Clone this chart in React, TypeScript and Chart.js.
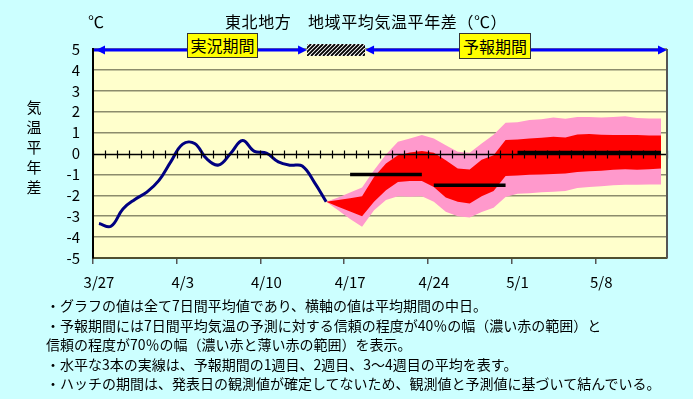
import React, { useEffect, useRef } from "react";
import { Chart, registerables } from "chart.js";

Chart.register(...registerables);

// ---- data ----
const categories = [
  "3/27", "3/28", "3/29", "3/30", "3/31", "4/1", "4/2", "4/3", "4/4", "4/5",
  "4/6", "4/7", "4/8", "4/9", "4/10", "4/11", "4/12", "4/13", "4/14", "4/15",
  "4/16", "4/17", "4/18", "4/19", "4/20", "4/21", "4/22", "4/23", "4/24", "4/25",
  "4/26", "4/27", "4/28", "4/29", "4/30", "5/1", "5/2", "5/3", "5/4", "5/5",
  "5/6", "5/7", "5/8", "5/9", "5/10", "5/11", "5/12", "5/13",
];
const xTickLabels = ["3/27", "4/3", "4/10", "4/17", "4/24", "5/1", "5/8"];
const yTicks = [-5, -4, -3, -2, -1, 0, 1, 2, 3, 4, 5];

// observed (実況), starting 3/27
const observed = [
  -3.35, -3.48, -2.65, -2.2, -1.85, -1.3, -0.4, 0.45, 0.48, -0.25,
  -0.55, 0.0, 0.62, 0.1, 0.02, -0.4, -0.56, -0.6, -1.37, -2.31,
];

// forecast bands (予報), starting 4/15
const forecastStart = "4/15";
const pinkUpper = [
  -2.31, -2.1, -1.87, -1.63, -0.8, -0.05, 0.56, 0.72, 0.88, 0.72,
  0.4, 0.08, 0.03, 0.48, 0.9, 1.47, 1.5, 1.6, 1.64, 1.72,
  1.66, 1.75, 1.75, 1.72, 1.75, 1.78, 1.7, 1.67, 1.67,
];
const redUpper = [
  -2.31, -2.23, -2.14, -2.04, -1.12, -0.48, -0.08, 0.05, 0.12, 0.03,
  -0.32, -0.72, -0.77, -0.3, -0.08, 0.64, 0.67, 0.72, 0.75, 0.8,
  0.77, 0.91, 0.93, 0.9, 0.88, 0.88, 0.88, 0.86, 0.86,
];
const redLower = [
  -2.31, -2.55, -2.78, -3.0, -2.31, -1.76, -1.36, -1.31, -1.31, -1.6,
  -2.1, -2.31, -2.39, -2.04, -1.8, -1.08, -1.05, -1.02, -1.0, -0.98,
  -0.96, -0.88, -0.85, -0.82, -0.78, -0.75, -0.78, -0.75, -0.72,
];
const pinkLower = [
  -2.31, -2.71, -3.13, -3.51, -2.71, -2.23, -2.04, -2.07, -2.04, -2.31,
  -2.79, -3.0, -3.06, -2.8, -2.6, -2.08, -1.93, -1.9, -1.85, -1.83,
  -1.8, -1.65, -1.6, -1.57, -1.52, -1.5, -1.49, -1.48, -1.48,
];

// weekly means (1週目, 2週目, 3～4週目)
const weekStart = ["4/17", "4/24", "5/1"];
const weekEnd = ["4/23", "4/30", "5/13"];
const weekMean = [-1.0, -1.52, 0.05];

const notes = [
  "・グラフの値は全て7日間平均値であり、横軸の値は平均期間の中日。",
  "・予報期間には7日間平均気温の予測に対する信頼の程度が40％の幅（濃い赤の範囲）と",
  "信頼の程度が70％の幅（濃い赤と薄い赤の範囲）を表示。",
  "・水平な3本の実線は、予報期間の1週目、2週目、3～4週目の平均を表す。",
  "・ハッチの期間は、発表日の観測値が確定してないため、観測値と予測値に基づいて結んでいる。",
];

// hatch period (in category-index units)
const hatchFrom = 17.4;
const hatchTo = 22.25;

const FONT = "'Noto Sans CJK JP', 'Noto Sans', sans-serif";

function padSeries(values: number[], startLabel: string) {
  const s = categories.indexOf(startLabel);
  return categories.map((_, i) =>
    i >= s && i - s < values.length ? values[i - s] : null
  );
}
function rangeSeries(from: string, to: string, v: number) {
  const a = categories.indexOf(from);
  const b = categories.indexOf(to);
  return categories.map((_, i) => (i >= a && i <= b ? v : null));
}

const decorPlugin = {
  id: "decor",
  beforeDraw(chart: any) {
    const { ctx, chartArea: a } = chart;
    ctx.save();
    ctx.fillStyle = "#CCFFFF";
    ctx.fillRect(0, 0, chart.width, chart.height);
    ctx.fillStyle = "#FFFFCC";
    ctx.fillRect(a.left, a.top, a.right - a.left, a.bottom - a.top);
    ctx.restore();
  },
  afterDatasetsDraw(chart: any) {
    const { ctx, chartArea: a } = chart;
    const xs = chart.scales.x;
    const ys = chart.scales.y;
    const y0 = Math.round(ys.getPixelForValue(0)) + 0.5;
    ctx.save();
    ctx.strokeStyle = "#000";
    ctx.lineWidth = 1.5;
    ctx.beginPath();
    ctx.moveTo(a.left, y0);
    ctx.lineTo(a.right, y0);
    ctx.stroke();
    ctx.lineWidth = 1.2;
    for (let i = 0; i <= categories.length; i++) {
      const x = Math.round(xs.getPixelForValue(i - 0.5)) + 0.5;
      ctx.beginPath();
      ctx.moveTo(x, y0 - 4);
      ctx.lineTo(x, y0 + 4);
      ctx.stroke();
    }
    ctx.restore();
  },
  afterDraw(chart: any) {
    const { ctx, chartArea: a } = chart;
    const xs = chart.scales.x;
    ctx.save();
    // right border
    ctx.strokeStyle = "#555555";
    ctx.lineWidth = 2;
    ctx.beginPath();
    ctx.moveTo(a.right, a.top);
    ctx.lineTo(a.right, a.bottom);
    ctx.stroke();

    const y = a.top + 1;
    const hx1 = xs.getPixelForValue(hatchFrom);
    const hx2 = xs.getPixelForValue(hatchTo);
    const head = (tip: number, dir: number) => {
      ctx.beginPath();
      ctx.moveTo(tip, y);
      ctx.lineTo(tip - dir * 9, y - 4.5);
      ctx.lineTo(tip - dir * 9, y + 4.5);
      ctx.closePath();
      ctx.fill();
    };
    ctx.strokeStyle = "#0000FF";
    ctx.fillStyle = "#0000FF";
    ctx.lineWidth = 3;
    ctx.beginPath();
    ctx.moveTo(a.left + 1, y);
    ctx.lineTo(hx1 - 4, y);
    ctx.moveTo(hx2 + 4, y);
    ctx.lineTo(a.right - 4, y);
    ctx.stroke();
    head(a.left + 3, -1);
    head(hx1, 1);
    head(hx2, -1);
    head(a.right, 1);

    // hatch
    const ht = y - 6;
    const hh = 12;
    ctx.fillStyle = "#FFFFFF";
    ctx.fillRect(hx1, ht, hx2 - hx1, hh);
    ctx.beginPath();
    ctx.rect(hx1, ht, hx2 - hx1, hh);
    ctx.clip();
    ctx.strokeStyle = "#000000";
    ctx.lineWidth = 1.8;
    for (let k = -hh - 4; k < hx2 - hx1 + 4; k += 4) {
      ctx.beginPath();
      ctx.moveTo(hx1 + k, ht + hh);
      ctx.lineTo(hx1 + k + hh, ht);
      ctx.stroke();
    }
    ctx.restore();
  },
};

export default function App() {
  const ref = useRef<HTMLCanvasElement | null>(null);

  useEffect(() => {
    const canvas = ref.current;
    if (!canvas) return;
    const lineDs = (data: any[], color: string, width: number, order: number, tension = 0) => ({
      data,
      borderColor: color,
      borderWidth: width,
      pointRadius: 0,
      tension,
      fill: false,
      order,
      spanGaps: false,
    });
    const bandDs = (data: any[], color: string, order: number, fill: any) => ({
      data,
      borderColor: "rgba(0,0,0,0)",
      borderWidth: 0,
      backgroundColor: color,
      pointRadius: 0,
      tension: 0,
      fill,
      order,
      spanGaps: false,
    });

    const chart = new Chart(canvas, {
      type: "line",
      data: {
        labels: categories,
        datasets: [
          lineDs(rangeSeries(weekStart[0], weekEnd[0], weekMean[0]), "#000000", 3.5, 0),
          lineDs(rangeSeries(weekStart[1], weekEnd[1], weekMean[1]), "#000000", 3.5, 0),
          lineDs(rangeSeries(weekStart[2], weekEnd[2], weekMean[2]), "#000000", 3.5, 0),
          lineDs(padSeries(observed, categories[0]), "#000080", 3, 1, 0.4),
          bandDs(padSeries(redUpper, forecastStart), "#FF0000", 2, "+1"),
          bandDs(padSeries(redLower, forecastStart), "#FF0000", 2, false),
          bandDs(padSeries(pinkUpper, forecastStart), "#FF99CC", 3, "+1"),
          bandDs(padSeries(pinkLower, forecastStart), "#FF99CC", 3, false),
        ],
      } as any,
      options: {
        animation: false,
        responsive: false,
        maintainAspectRatio: false,
        devicePixelRatio: 1,
        layout: { padding: { left: 0, top: 49, right: 26, bottom: 101 } },
        plugins: {
          legend: { display: false },
          tooltip: { enabled: false },
          title: { display: false },
        },
        scales: {
          x: {
            type: "category",
            offset: true,
            grid: {
              offset: true,
              drawOnChartArea: false,
              drawTicks: true,
              tickLength: 6,
              lineWidth: 1.5,
              color: (c: any) =>
                c.index !== undefined && xTickLabels.includes(categories[c.index])
                  ? "#555555"
                  : "rgba(0,0,0,0)",
            },
            border: { display: true, color: "#505030", width: 2 },
            ticks: {
              autoSkip: false,
              maxRotation: 0,
              minRotation: 0,
              padding: 9,
              color: "#000",
              font: { family: FONT, size: 15 },
              callback: (_v: any, i: number) =>
                xTickLabels.includes(categories[i]) ? categories[i] : "",
            },
            afterFit: (s: any) => {
              s.height = 40;
            },
          },
          y: {
            min: yTicks[0],
            max: yTicks[yTicks.length - 1],
            afterBuildTicks: (s: any) => {
              s.ticks = yTicks.map((v) => ({ value: v }));
            },
            ticks: {
              autoSkip: false,
              padding: 13,
              color: "#000",
              font: { family: FONT, size: 15 },
              callback: (v: any) => String(v),
            },
            grid: {
              drawTicks: false,
              lineWidth: 1.5,
              color: (c: any) =>
                c.tick && c.tick.value === 0 ? "rgba(0,0,0,0)" : "#8c8c6c",
            },
            border: { display: true, color: "#000000", width: 2 },
            afterFit: (s: any) => {
              s.width = 93;
            },
          },
        },
      } as any,
      plugins: [decorPlugin],
    });
    return () => chart.destroy();
  }, []);

  const abs = (extra: any) => ({ position: "absolute" as const, whiteSpace: "nowrap" as const, ...extra });

  return (
    <div
      style={{
        position: "fixed",
        left: 0,
        top: 0,
        width: 693,
        height: 399,
        background: "#CCFFFF",
        overflow: "hidden",
        fontFamily: FONT,
        color: "#000",
      }}
    >
      <canvas
        ref={ref}
        width={693}
        height={399}
        style={{ position: "absolute", left: 0, top: 0, width: 693, height: 399 }}
      />
      <div style={abs({ left: 88, top: 11, fontSize: 16, lineHeight: "20px" })}>℃</div>
      <div style={abs({ left: 225, top: 11, fontSize: 16, lineHeight: "20px", letterSpacing: "0.6px" })}>
        東北地方　地域平均気温平年差（℃）
      </div>
      <div
        style={abs({
          left: 26,
          top: 97,
          width: 16,
          fontSize: 15,
          lineHeight: "20px",
          textAlign: "center",
          whiteSpace: "normal",
        })}
      >
        {"気温平年差".split("").map((ch, i) => (
          <div key={i}>{ch}</div>
        ))}
      </div>
      <div
        style={abs({
          left: 187,
          top: 33,
          width: 71,
          height: 25,
          boxSizing: "border-box",
          border: "1px solid #333333",
          background: "#FFFF00",
          fontSize: 16,
          lineHeight: "23px",
          textAlign: "center",
        })}
      >
        実況期間
      </div>
      <div
        style={abs({
          left: 459,
          top: 33,
          width: 72,
          height: 26,
          boxSizing: "border-box",
          border: "1px solid #333333",
          background: "#FFFF00",
          fontSize: 16,
          lineHeight: "24px",
          textAlign: "center",
        })}
      >
        予報期間
      </div>
      <div style={abs({ left: 46, top: 296, fontSize: 14, lineHeight: "19.5px" })}>
        {notes.map((t, i) => (
          <div key={i}>{t}</div>
        ))}
      </div>
    </div>
  );
}
